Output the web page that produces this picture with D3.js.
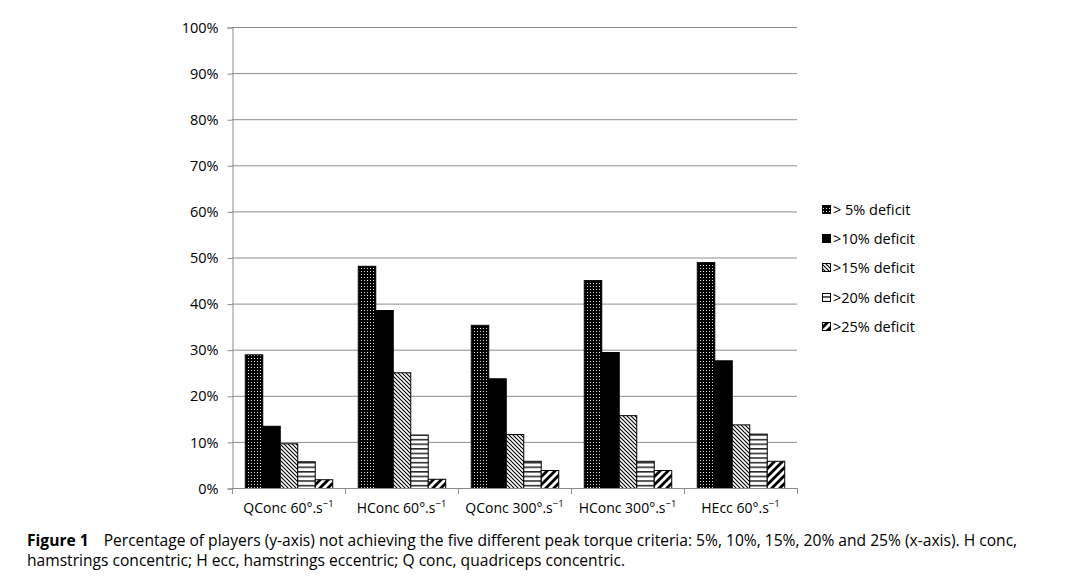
<!DOCTYPE html>
<html>
<head>
<meta charset="utf-8">
<script src="https://cdn.jsdelivr.net/npm/d3@7"></script>
<style>
  html, body { margin: 0; padding: 0; background: #fff; }
  svg { display: block; }
  text { font-family: "Open Sans", "Noto Sans", sans-serif; }
</style>
</head>
<body>
<svg id="chart" width="1083" height="581"></svg>
<script>
// ---- data ----
const categories = ["QConc 60°.s", "HConc 60°.s", "QConc 300°.s", "HConc 300°.s", "HEcc 60°.s"];
const seriesNames = ["> 5% deficit", ">10% deficit", ">15% deficit", ">20% deficit", ">25% deficit"];
const deficit5  = [29.0, 48.2, 35.4, 45.1, 49.0];
const deficit10 = [13.5, 38.6, 23.8, 29.5, 27.7];
const deficit15 = [9.7, 25.1, 11.7, 15.8, 13.8];
const deficit20 = [5.8, 11.6, 5.9, 5.9, 11.8];
const deficit25 = [1.9, 2.0, 3.9, 3.9, 5.9];
const seriesValues = [deficit5, deficit10, deficit15, deficit20, deficit25];
const yTicks = [0, 10, 20, 30, 40, 50, 60, 70, 80, 90, 100];
const captionLine1Bold = "Figure 1";
const captionLine1 = "Percentage of players (y-axis) not achieving the five different peak torque criteria: 5%, 10%, 15%, 20% and 25% (x-axis). H conc,";
const captionLine2 = "hamstrings concentric; H ecc, hamstrings eccentric; Q conc, quadriceps concentric.";

// ---- layout ----
const svg = d3.select("#chart");
const plot = { left: 232, right: 797, top: 27, bottom: 488 };

const defs = svg.append("defs");
// pattern 0: dotted (black with white dots)
const p0 = defs.append("pattern").attr("id", "pat0").attr("patternUnits", "userSpaceOnUse")
  .attr("width", 3).attr("height", 3);
p0.append("rect").attr("width", 3).attr("height", 3).attr("fill", "#000");
p0.append("rect").attr("x", 1).attr("y", 1).attr("width", 1).attr("height", 1).attr("fill", "#ddd");
// pattern 2: backslash diagonal
const p2 = defs.append("pattern").attr("id", "pat2").attr("patternUnits", "userSpaceOnUse")
  .attr("width", 4).attr("height", 4);
p2.append("rect").attr("width", 4).attr("height", 4).attr("fill", "#fff");
p2.append("path").attr("d", "M-1,-1 L5,5 M-1,3 L1,5 M3,-1 L5,1").attr("stroke", "#000").attr("stroke-width", 1.1);
// pattern 3: horizontal lines
const p3 = defs.append("pattern").attr("id", "pat3").attr("patternUnits", "userSpaceOnUse")
  .attr("width", 6).attr("height", 4.6);
p3.append("rect").attr("width", 6).attr("height", 4.6).attr("fill", "#fff");
p3.append("rect").attr("y", 2).attr("width", 6).attr("height", 1.3).attr("fill", "#000");
// pattern 4: wide forward diagonal
const p4 = defs.append("pattern").attr("id", "pat4").attr("patternUnits", "userSpaceOnUse")
  .attr("width", 8).attr("height", 8);
p4.append("rect").attr("width", 8).attr("height", 8).attr("fill", "#fff");
p4.append("path").attr("d", "M-2,10 L10,-2 M-6,6 L6,-6 M2,14 L14,2").attr("stroke", "#000").attr("stroke-width", 2.8);

const fills = ["url(#pat0)", "#000", "url(#pat2)", "url(#pat3)", "url(#pat4)"];

const x0 = d3.scaleBand().domain(categories).range([plot.left, plot.right]).padding(0);
const x1 = d3.scaleBand().domain(d3.range(seriesNames.length)).range([0, x0.bandwidth()])
  .paddingInner(0).paddingOuter(0.73);
const y = d3.scaleLinear().domain([0, 100]).range([plot.bottom, plot.top]);

// gridlines
svg.append("g").selectAll("line").data(yTicks.filter(d => d > 0)).join("line")
  .attr("x1", plot.left).attr("x2", plot.right)
  .attr("y1", d => y(d) + 0.5).attr("y2", d => y(d) + 0.5)
  .attr("stroke", "#8c8c8c").attr("stroke-width", 1);

// y axis
const yAxis = d3.axisLeft(y).tickValues(yTicks).tickFormat(d => d + "%").tickSize(5).tickPadding(9);
const gy = svg.append("g").attr("transform", `translate(${plot.left + 0.5},0.5)`).call(yAxis);
gy.select(".domain").attr("stroke", "#8c8c8c");
gy.selectAll(".tick line").attr("stroke", "#8c8c8c");
gy.selectAll(".tick text").attr("font-size", 14.5).attr("fill", "#000")
  .attr("font-family", "'Open Sans', sans-serif");

// bars
const groups = svg.append("g").selectAll("g").data(categories).join("g")
  .attr("transform", d => `translate(${x0(d)},0)`);
groups.selectAll("rect").data((c, ci) => seriesValues.map((vals, si) => ({ si, v: vals[ci] })))
  .join("rect")
  .attr("x", d => x1(d.si) + 0.5)
  .attr("y", d => y(d.v) + 0.5)
  .attr("width", x1.bandwidth())
  .attr("height", d => y(0) - y(d.v))
  .attr("fill", d => fills[d.si])
  .attr("stroke", "#000").attr("stroke-width", 1);

// x axis
const xAxisLine = svg.append("g");
xAxisLine.append("line").attr("x1", plot.left).attr("x2", plot.right)
  .attr("y1", plot.bottom + 0.5).attr("y2", plot.bottom + 0.5).attr("stroke", "#8c8c8c");
const boundaries = categories.map(c => x0(c)).concat([plot.right]);
xAxisLine.selectAll("line.t").data(boundaries).join("line").attr("class", "t")
  .attr("x1", d => Math.round(d) + 0.5).attr("x2", d => Math.round(d) + 0.5)
  .attr("y1", plot.bottom).attr("y2", plot.bottom + 6).attr("stroke", "#8c8c8c");
const xl = svg.append("g").selectAll("text").data(categories).join("text")
  .attr("x", d => x0(d) + x0.bandwidth() / 2)
  .attr("y", 513)
  .attr("text-anchor", "middle")
  .attr("font-size", 14);
xl.append("tspan").text(d => d);
xl.append("tspan").attr("font-size", 9.5).attr("dy", -6).text("−1");

// legend
const legend = svg.append("g").attr("transform", "translate(822,0)");
const ly = [210, 239, 268, 298, 327];
seriesNames.forEach((name, i) => {
  legend.append("rect").attr("x", 0.5).attr("y", ly[i] - 4.5).attr("width", 8).attr("height", 8)
    .attr("fill", fills[i]).attr("stroke", "#000").attr("stroke-width", 1);
  legend.append("text").attr("x", 11).attr("y", ly[i] + 5).attr("font-size", 14.5).text(name);
});

// caption
const cap = svg.append("g").attr("font-family", "'Open Sans', sans-serif").attr("font-size", 15.6);
const t1 = cap.append("text").attr("x", 27).attr("y", 546);
t1.append("tspan").attr("font-weight", "bold").text(captionLine1Bold);
t1.append("tspan").attr("dx", 15).text(captionLine1);
cap.append("text").attr("x", 27).attr("y", 566).text(captionLine2);
</script>
</body>
</html>
